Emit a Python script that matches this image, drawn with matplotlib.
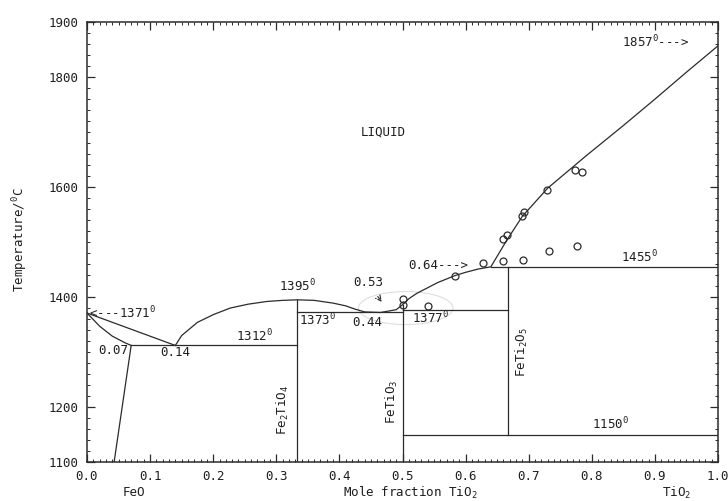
import matplotlib
matplotlib.use("Agg")
import matplotlib.pyplot as plt
from matplotlib.patches import Ellipse
from matplotlib.ticker import MultipleLocator, FixedLocator

plt.rcParams['font.family'] = ['DejaVu Sans Mono']
plt.rcParams['mathtext.fontset'] = 'custom'
plt.rcParams['mathtext.rm'] = 'DejaVu Sans Mono'
plt.rcParams['mathtext.default'] = 'regular'

# FeO-TiO2 phase boundaries (mole fraction TiO2, deg C)
liq_feo_x = [0.0, 0.14]
liq_feo_T = [1371, 1312]
sol_feo_x = [0.0, 0.02, 0.04, 0.06, 0.07]
sol_feo_T = [1371, 1347, 1329, 1317, 1312]
solvus_x = [0.07, 0.043]
solvus_T = [1312, 1100]

liq_x = [0.14, 0.15, 0.175, 0.2, 0.227, 0.255, 0.285, 0.31, 0.333,
         0.36, 0.39, 0.41, 0.425, 0.44, 0.465, 0.49, 0.5,
         0.51, 0.523, 0.54, 0.555, 0.57, 0.583, 0.6, 0.62, 0.64,
         0.665, 0.69, 0.73, 0.79, 0.85, 0.9, 0.95, 1.0]
liq_T = [1312, 1330, 1354, 1368, 1380, 1387, 1392, 1394, 1395,
         1394, 1389, 1384, 1378, 1373, 1372, 1377, 1386,
         1397, 1407, 1417, 1426, 1433, 1439, 1445, 1451, 1455,
         1503, 1547, 1598, 1656, 1712, 1760, 1809, 1857]

# isotherms: (T, x_start, x_end)
isotherms = [(1312, 0.07, 0.333), (1373, 0.333, 0.5), (1377, 0.5, 0.667),
             (1455, 0.64, 1.0), (1150, 0.5, 1.0)]
# compounds: (x, T_bottom, T_top)
compounds = [(0.333, 1100, 1395), (0.5, 1100, 1386), (0.667, 1150, 1455)]

# measured points
pts_x = [0.5, 0.5, 0.54, 0.583, 0.628, 0.66, 0.665, 0.689, 0.693, 0.729,
         0.773, 0.784, 0.659, 0.691, 0.732, 0.777]
pts_T = [1397, 1386, 1383, 1439, 1462, 1505, 1512, 1547, 1554, 1594,
         1631, 1628, 1466, 1467, 1484, 1493]

xticks = [0.0, 0.1, 0.2, 0.3, 0.4, 0.5, 0.6, 0.7, 0.8, 0.9, 1.0]
yticks = [1100, 1200, 1400, 1600, 1800, 1900]

lc = '#2b2b2b'
tc = '#1e1e1e'

fig = plt.figure(figsize=(7.28, 5.01), dpi=100)
ax = fig.add_axes([0.1195, 0.0778, 0.8668, 0.878])

ax.plot(liq_feo_x, liq_feo_T, color=lc, lw=0.9)
ax.plot(sol_feo_x, sol_feo_T, color=lc, lw=0.9)
ax.plot(solvus_x, solvus_T, color=lc, lw=0.9)
ax.plot(liq_x, liq_T, color=lc, lw=0.9)
for T, x0, x1 in isotherms:
    ax.plot([x0, x1], [T, T], color=lc, lw=0.9)
for x, T0, T1 in compounds:
    ax.plot([x, x], [T0, T1], color=lc, lw=0.9)

ax.add_patch(Ellipse((0.505, 1380), 0.15, 60, fill=False, ec='#dadada', lw=0.7))

ax.plot(pts_x, pts_T, 'o', mfc='none', mec=lc, ms=5, mew=0.9)

fs = 9
ax.text(0.003, 1371, '<---1371$^0$', fontsize=fs, color=tc, ha='left', va='center')
ax.text(0.041, 1302, '0.07', fontsize=fs, color=tc, ha='center', va='center')
ax.text(0.14, 1300, '0.14', fontsize=fs, color=tc, ha='center', va='center')
ax.text(0.265, 1330, '1312$^0$', fontsize=fs, color=tc, ha='center', va='center')
ax.text(0.333, 1420, '1395$^0$', fontsize=fs, color=tc, ha='center', va='center')
ax.text(0.336, 1358, '1373$^0$', fontsize=fs, color=tc, ha='left', va='center')
ax.text(0.444, 1354, '0.44', fontsize=fs, color=tc, ha='center', va='center')
ax.text(0.445, 1427, '0.53', fontsize=fs, color=tc, ha='center', va='center')
ax.annotate('', xy=(0.47, 1387), xytext=(0.458, 1405),
            arrowprops=dict(arrowstyle='->', color=lc, lw=0.8, ls='--'))
ax.text(0.515, 1362, '1377$^0$', fontsize=fs, color=tc, ha='left', va='center')
ax.text(0.509, 1458, '0.64--->', fontsize=fs, color=tc, ha='left', va='center')
ax.text(0.875, 1472, '1455$^0$', fontsize=fs, color=tc, ha='center', va='center')
ax.text(0.848, 1863, '1857$^0$--->', fontsize=fs, color=tc, ha='left', va='center')
ax.text(0.83, 1170, '1150$^0$', fontsize=fs, color=tc, ha='center', va='center')
ax.text(0.47, 1700, 'LIQUID', fontsize=fs, color=tc, ha='center', va='center')

ax.text(0.31, 1195, 'Fe$_2$TiO$_4$', fontsize=fs, color=tc, rotation=90,
        ha='center', va='center')
ax.text(0.483, 1210, 'FeTiO$_3$', fontsize=fs, color=tc, rotation=90,
        ha='center', va='center')
ax.text(0.69, 1300, 'FeTi$_2$O$_5$', fontsize=fs, color=tc, rotation=90,
        ha='center', va='center')

ax.set_xlim(0, 1.0)
ax.set_ylim(1100, 1900)
ax.xaxis.set_major_locator(FixedLocator(xticks))
ax.xaxis.set_minor_locator(MultipleLocator(0.01))
ax.yaxis.set_major_locator(FixedLocator(yticks))
ax.yaxis.set_minor_locator(MultipleLocator(20))
ax.set_xticklabels(['%.1f' % v for v in xticks])
ax.set_yticklabels([str(v) for v in yticks])
ax.tick_params(which='both', direction='in', top=True, right=True, colors=lc,
               labelsize=fs, labelcolor=tc)
ax.tick_params(which='major', length=6, width=0.9, pad=6)
ax.tick_params(which='minor', length=2.5, width=0.7)
for sp in ax.spines.values():
    sp.set_color(lc)
    sp.set_linewidth(1.1)

tr = ax.get_xaxis_transform()
ax.text(0.075, -0.07, 'FeO', transform=tr, fontsize=fs, color=tc, ha='center', va='center')
ax.text(0.512, -0.07, 'Mole fraction TiO$_2$', transform=tr, fontsize=fs, color=tc,
        ha='center', va='center')
ax.text(0.935, -0.07, 'TiO$_2$', transform=tr, fontsize=fs, color=tc, ha='center', va='center')
ax.text(-0.106, 0.505, 'Temperature/$^0$C', transform=ax.transAxes, fontsize=fs,
        color=tc, rotation=90, ha='center', va='center')

fig.savefig('out.png', dpi=100)
